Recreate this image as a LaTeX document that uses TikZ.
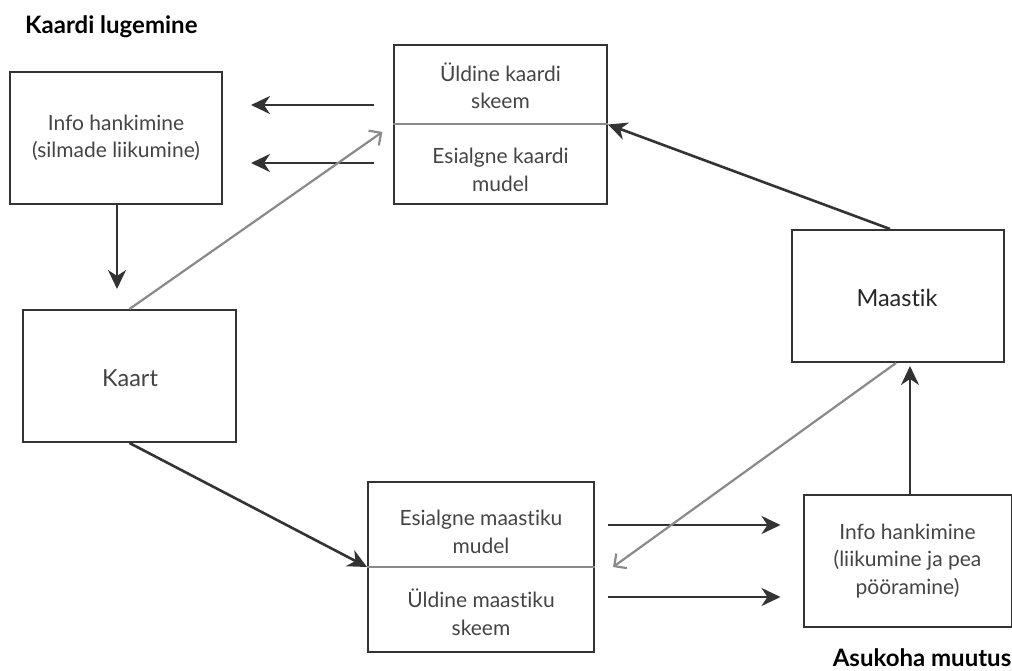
\documentclass[tikz,border=0pt]{standalone}
\usepackage{fontspec}
\setmainfont{Lato}[Ligatures={NoCommon}]
\usetikzlibrary{arrows.meta,calc}
\definecolor{ink}{HTML}{333333}
\definecolor{txt}{HTML}{444444}
\definecolor{gline}{HTML}{8A8A8A}
\tikzset{
  box/.style={draw=ink, line width=2pt, minimum width=#1, inner sep=0pt},
  lbl/.style={text=txt, font=\fontsize{21}{27.5}\selectfont, align=center, inner sep=0pt},
  big/.style={text=txt, font=\fontsize{23.5}{27.5}\selectfont, align=center, inner sep=0pt},
  ttl/.style={text=black, font=\fontsize{24}{26}\selectfont\bfseries, inner sep=0pt},
  darr/.style={draw=ink, line width=2.6pt, -{Stealth[length=19pt,width=18pt,inset=6pt]}},
  garr/.style={draw=gline, line width=2.2pt, -{Straight Barb[length=9pt,width=18pt,line width=2.2pt]}},
  divl/.style={draw=gline, line width=2pt}
}
\begin{document}
\begin{tikzpicture}[x=1pt,y=-1pt]
\useasboundingbox (0,0) rectangle (1012,671);
% title labels
\node[ttl, anchor=west] (t1) at (25,27) {Kaardi lugemine};
\node[ttl] (t2) at (922,658) {Asukoha muutus};
% boxes
\node[box=212pt, minimum height=132pt] (A) at (116,138) {};
\node[lbl] at (A) {Info hankimine\\(silmade liikumine)};
\node[box=213pt, minimum height=159pt] (B) at (500.5,124.5) {};
\node[lbl] (B1) at (500.5,86) {Üldine kaardi\\skeem};
\node[lbl] (B2) at (500.5,170) {Esialgne kaardi\\mudel};
\draw[divl] (B.west) -- (B.east);
\node[box=213pt, minimum height=132pt] (K) at (129.5,376) {};
\node[big] at (130,378) {Kaart};
\node[box=212pt, minimum height=132pt] (M) at (898,296) {};
\node[big, text=black!85] at (897,298) {Maastik};
\node[box=226pt, minimum height=170pt] (D) at (481,567) {};
\node[lbl] (D1) at (481,532) {Esialgne maastiku\\mudel};
\node[lbl] (D2) at (481,612) {Üldine maastiku\\skeem};
\draw[divl] (D.west) -- (D.east);
\node[box=208pt, minimum height=132pt] (E) at (907.5,561) {};
\node[lbl] at (E) {Info hankimine\\(liikumine ja pea\\pööramine)};
% connectors
\draw[darr, shorten <=19pt, shorten >=28pt] (B.west |- 0,105) -- (A.east |- 0,105);
\draw[darr, shorten <=19pt, shorten >=28pt] (B.west |- 0,163) -- (A.east |- 0,163);
\draw[darr, shorten >=20pt] (A.south -| 117,0) -- (K.north -| 117,0);
\draw[garr, shorten >=13pt] (K.north) -- (B.west);
\draw[darr] ([xshift=-8pt]M.north) -- (B.east);
\draw[darr] (K.south) -- (D.west);
\draw[darr, shorten <=13pt, shorten >=22pt] (D.east |- 0,525) -- (E.west |- 0,525);
\draw[darr, shorten <=13pt, shorten >=22pt] (D.east |- 0,597) -- (E.west |- 0,597);
\draw[darr, shorten >=3pt] (E.north -| 910,0) -- (M.south -| 910,0);
\draw[garr] ([xshift=-2pt]M.south) -- ($(D.east)+(18,0)$);
\end{tikzpicture}
\end{document}
